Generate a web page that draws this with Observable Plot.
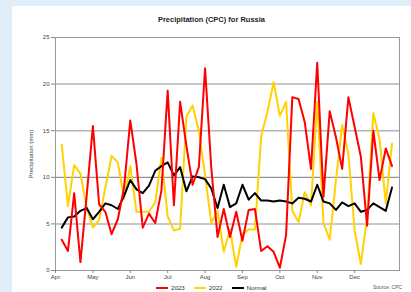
<!DOCTYPE html>
<html>
<head>
<meta charset="utf-8">
<script src="https://cdn.jsdelivr.net/npm/d3@7"></script>
<script src="https://cdn.jsdelivr.net/npm/@observablehq/plot@0.6"></script>
<style>
  html, body { margin: 0; padding: 0; }
  body { width: 411px; height: 292px; overflow: hidden; position: relative; background: #dfeef8;
         font-family: "Liberation Sans", Arial, sans-serif; }
  #panel { position: absolute; left: 12px; top: 6px; width: 399px; height: 286px; background: #fff; }
  #title { position: absolute; left: 12px; width: 399px; top: 15px; text-align: center; font-weight: bold;
           font-size: 7.5px; color: #222; line-height: 10px; }
  #chart { position: absolute; left: 12px; top: 28px; }
  #legend { position: absolute; left: 156px; top: 284px; display: flex; align-items: center; font-size: 6.2px; color: #333; line-height: 8px; }
  .sw { display: inline-block; width: 12px; height: 2px; margin-right: 3px; }
  .item { display: flex; align-items: center; margin-right: 9px; }
  #source { position: absolute; left: 373px; top: 284px; font-size: 5px; color: #555; line-height: 7px; }
</style>
</head>
<body>
<div id="panel"></div>
<div id="title">Precipitation (CPC) for Russia</div>
<div id="chart"></div>
<div id="legend">
  <div class="item"><span class="sw" style="background:#ff0000"></span>2023</div>
  <div class="item"><span class="sw" style="background:#ffd200"></span>2022</div>
  <div class="item"><span class="sw" style="background:#000"></span>Normal</div>
</div>
<div id="source">Source: CPC</div>
<script>
// Month tick labels and their pentad positions
const months = ["Apr", "May", "Jun", "Jul", "Aug", "Sep", "Oct", "Nov", "Dec"];
const monthTickPentads = [0, 6, 12, 18, 24, 30, 36, 42, 48];

// Pentad precipitation (mm), pentads 1..54 from April
const precip2023 = [3.3, 2.1, 8.3, 0.9, 8.0, 15.5, 7.1, 6.3, 3.9, 5.5,
  8.9, 16.1, 11.4, 4.6, 6.1, 5.1, 8.6, 19.3, 7.0, 18.1,
  13.4, 9.2, 11.1, 21.7, 11.0, 3.6, 6.6, 3.6, 6.3, 3.2,
  6.5, 6.6, 2.1, 2.6, 2.0, 0.3, 3.8, 18.6, 18.4, 15.9,
  10.9, 22.3, 7.9, 17.1, 14.3, 10.9, 18.6, 15.4, 12.2, 4.8,
  15.0, 9.7, 13.1, 11.2];
const precip2022 = [13.5, 6.9, 11.3, 10.4, 6.8, 4.6, 5.4, 8.9, 12.3, 11.6,
  7.7, 11.2, 6.3, 6.3, 6.3, 7.3, 12.1, 5.8, 4.3, 4.5,
  16.5, 17.7, 15.0, 10.2, 5.1, 6.4, 2.0, 4.4, 0.4, 3.9,
  4.4, 4.4, 14.4, 17.0, 20.2, 16.6, 18.1, 6.4, 5.2, 8.4,
  7.0, 18.1, 5.1, 3.3, 9.7, 15.6, 12.5, 4.3, 0.7, 5.7,
  16.9, 14.1, 7.2, 13.6];
const precipNormal = [4.6, 5.7, 5.8, 6.4, 6.7, 5.5, 6.3, 7.2, 7.0, 6.6,
  8.0, 9.7, 8.7, 8.3, 9.1, 10.7, 11.2, 11.6, 10.2, 11.1,
  8.5, 10.1, 10.0, 9.8, 8.8, 6.7, 9.2, 6.8, 7.2, 9.2,
  7.6, 8.3, 7.5, 7.5, 7.4, 7.5, 7.4, 7.2, 7.8, 7.7,
  7.4, 9.2, 7.4, 7.2, 6.5, 7.3, 6.9, 7.2, 6.3, 6.5,
  7.2, 6.8, 6.4, 8.9];

const rows = arr => arr.map((v, i) => ({k: i + 1, v}));

const chart = Plot.plot({
  width: 399,
  height: 256,
  marginLeft: 43,
  marginRight: 12,
  marginTop: 9,
  marginBottom: 14,
  style: {fontFamily: "'Liberation Sans', Arial, sans-serif", fontSize: "6px", color: "#444", background: "transparent"},
  x: {domain: [0, 55.2]},
  y: {domain: [0, 25]},
  marks: [
    Plot.ruleY([5, 15, 20], {stroke: "#b4b4b4", strokeWidth: 1.5}),
    Plot.ruleY([10], {stroke: "#777", strokeWidth: 1}),
    Plot.frame({stroke: "#999"}),
    Plot.axisY({ticks: [0, 5, 10, 15, 20, 25], tickSize: 4, tickPadding: 2, stroke: "#888",
      label: "Precipitation (mm)", labelAnchor: "center", labelArrow: "none", labelOffset: 27}),
    Plot.axisX({ticks: monthTickPentads, tickFormat: d => months[monthTickPentads.indexOf(d)],
      tickSize: 3, tickPadding: 1, stroke: "#888", label: null}),
    Plot.lineY(rows(precip2022), {x: "k", y: "v", stroke: "#ffd200", strokeWidth: 2}),
    Plot.lineY(rows(precipNormal), {x: "k", y: "v", stroke: "#000", strokeWidth: 2}),
    Plot.lineY(rows(precip2023), {x: "k", y: "v", stroke: "#ff0000", strokeWidth: 2})
  ]
});
document.getElementById("chart").appendChild(chart);
</script>
</body>
</html>
